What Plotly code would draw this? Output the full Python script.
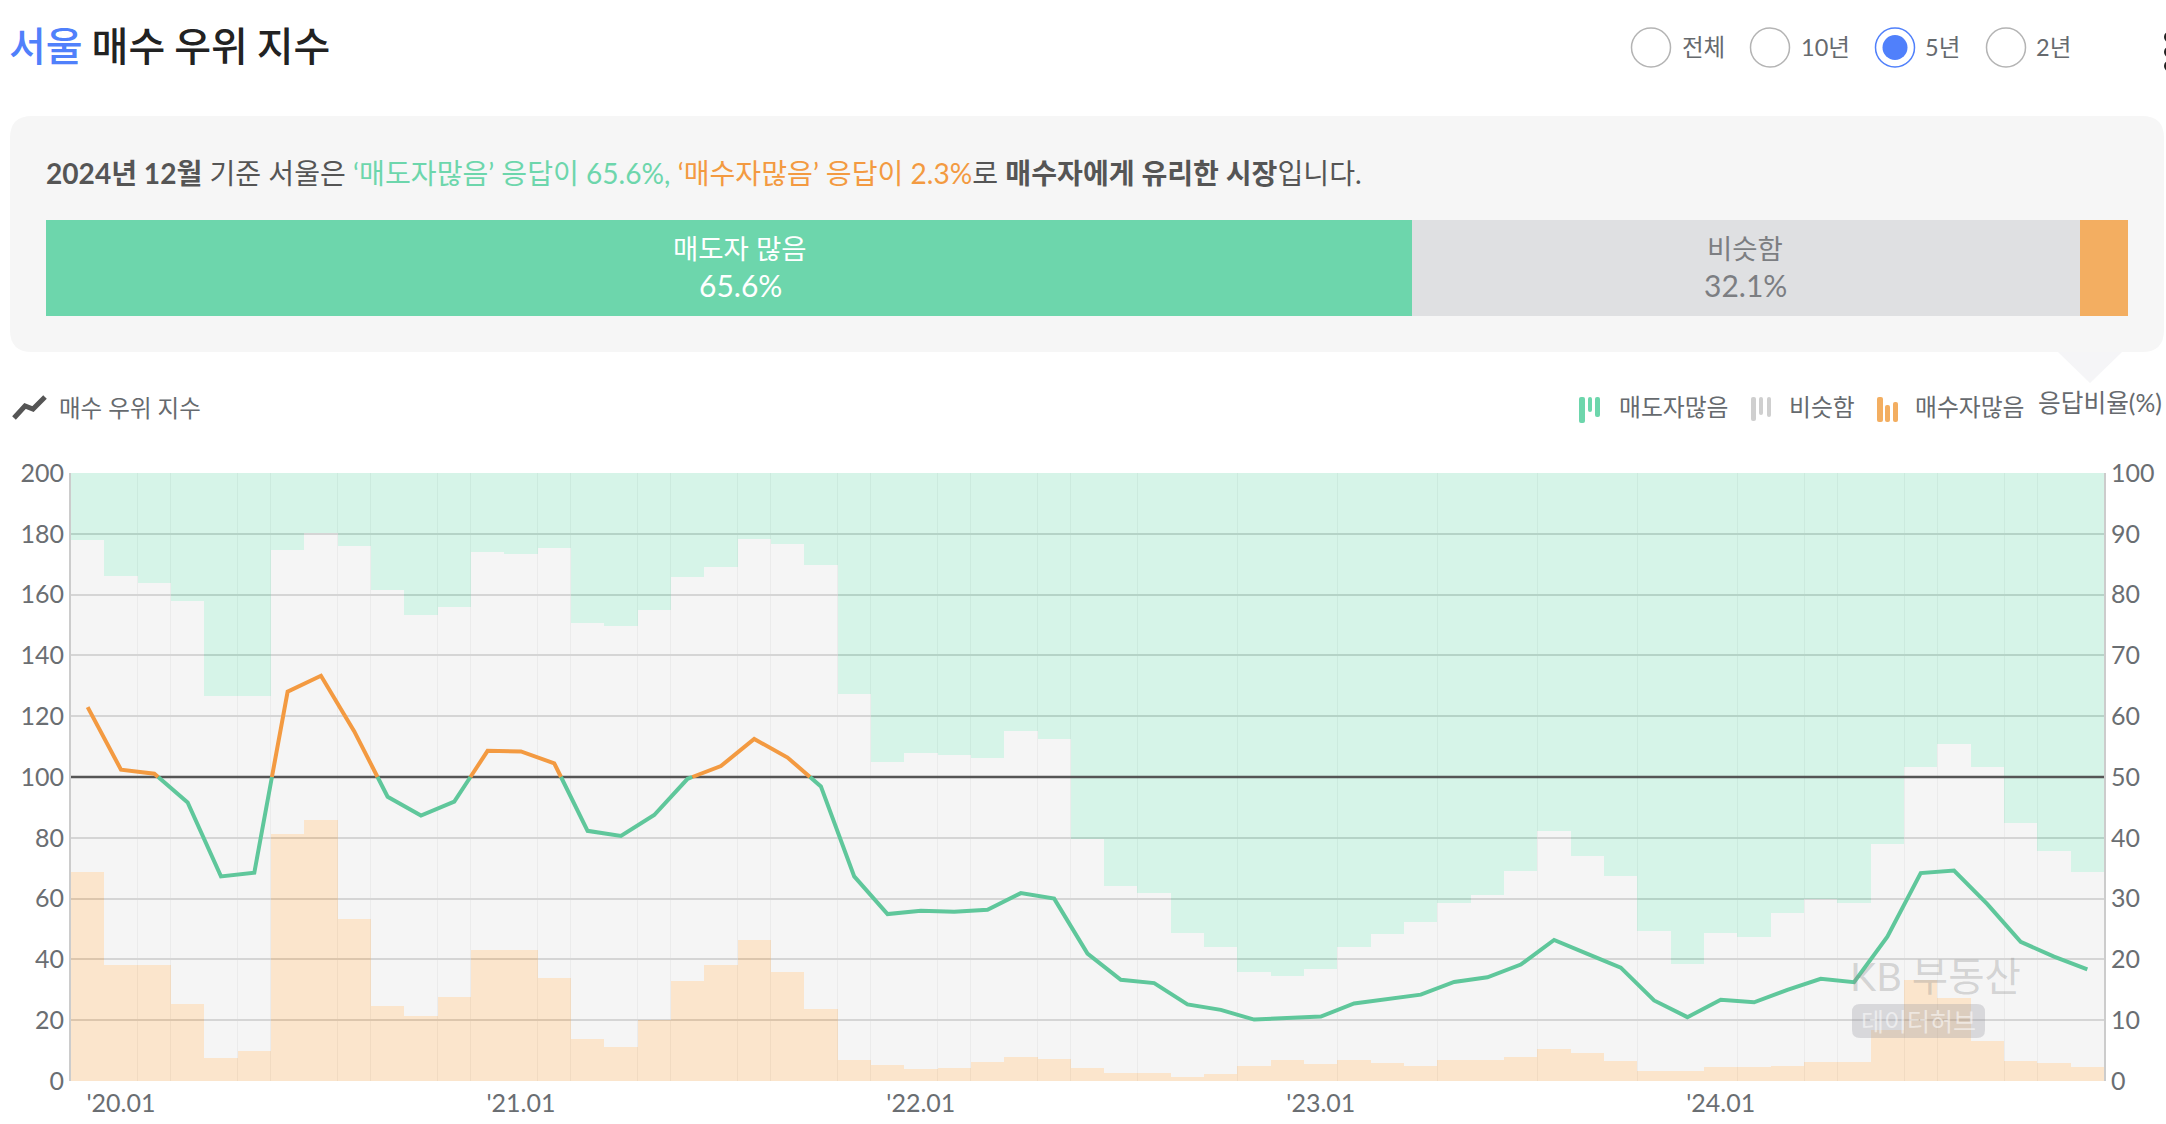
import plotly.graph_objects as go

W, H = 2166, 1124
FONT = "Lato, 'Noto Sans CJK KR', sans-serif"
KR = "'Noto Sans CJK KR', sans-serif"
TEXT_GREY = "#666a6e"
GREEN, GREY, ORANGE = "#6dd6ac", "#dfe0e2", "#f3ae61"
BLUE = "#5080fb"

months = [f"'{y}.{m:02d}" for y in (19,) for m in (12,)] + [
    f"'{y}.{m:02d}" for y in range(20, 25) for m in range(1, 13)
]

# Buyer-advantage index, left axis
buyer_index = [
    123.0, 102.4, 101.1, 91.6, 67.3, 68.5, 128.1, 133.3, 115.0, 93.5, 87.3, 91.9,
    108.6, 108.4, 104.5, 82.3, 80.6, 87.5, 99.4, 103.6, 112.5, 106.4, 96.9, 67.3,
    54.9, 56.0, 55.7, 56.3, 61.8, 60.0, 41.9, 33.3, 32.2, 25.2, 23.4, 20.2,
    20.8, 21.2, 25.5, 27.0, 28.4, 32.6, 34.1, 38.3, 46.4, 41.8, 37.3, 26.5,
    21.0, 26.7, 25.9, 30.0, 33.6, 32.5, 47.5, 68.4, 69.2, 58.2, 45.8, 40.9, 36.7,
]

# Share of responses in percent, right axis
many_sellers = [
    11.1, 16.9, 18.1, 21.0, 36.6, 36.6, 12.7, 9.9, 12.0, 19.2, 23.4, 22.1,
    13.0, 13.4, 12.4, 24.7, 25.1, 22.5, 17.1, 15.5, 10.9, 11.6, 15.2, 36.4,
    47.6, 46.0, 46.4, 46.9, 42.5, 43.8, 60.2, 68.0, 69.1, 75.6, 77.9, 82.1,
    82.8, 81.6, 78.0, 75.9, 73.9, 70.8, 69.4, 65.5, 58.9, 63.0, 66.2, 75.3,
    80.8, 75.7, 76.3, 72.4, 70.1, 70.8, 61.1, 48.4, 44.6, 48.4, 57.5, 62.2, 65.6,
]
many_buyers = [
    34.3, 19.0, 19.0, 12.6, 3.8, 4.9, 40.7, 42.9, 26.7, 12.4, 10.7, 13.8,
    21.5, 21.6, 16.9, 6.9, 5.6, 10.0, 16.4, 19.0, 23.2, 18.0, 11.9, 3.5,
    2.6, 1.9, 2.2, 3.1, 3.9, 3.6, 2.2, 1.3, 1.3, 0.7, 1.1, 2.4,
    3.4, 2.8, 3.4, 2.9, 2.4, 3.4, 3.4, 3.9, 5.2, 4.6, 3.3, 1.7,
    1.7, 2.3, 2.3, 2.4, 3.2, 3.2, 8.4, 16.6, 13.6, 6.5, 3.3, 2.9, 2.3,
]
similar = [round(100 - s - b, 1) for s, b in zip(many_sellers, many_buyers)]

y_ticks_left = list(range(0, 201, 20))
y_ticks_right = list(range(0, 101, 10))
x_tick_labels = ["'20.01", "'21.01", "'22.01", "'23.01", "'24.01"]

# Bar edges that carry a faint divider
divider_edges = [
    2, 3, 5, 6, 8, 9, 11, 12, 14, 15, 17, 18, 20, 21, 23, 24, 26, 27, 29, 30,
    32, 35, 38, 41, 44, 47, 50, 52, 53, 55, 56, 58, 59,
]

latest_labels = ["매도자 많음", "비슷함"]
periods = ["전체", "10년", "5년", "2년"]


def fx(px):
    return px / W


def fy(px):
    return 1 - px / H


def split_at_baseline(values, base=100):
    """Break a series into runs above and below the baseline."""
    runs = []
    xs, ys = [0], [values[0]]
    above = values[0] >= base
    for i in range(1, len(values)):
        now = values[i] >= base
        if now != above:
            t = (base - values[i - 1]) / (values[i] - values[i - 1])
            cx = i - 1 + t
            xs.append(cx)
            ys.append(base)
            runs.append((above, xs, ys))
            xs, ys = [cx], [base]
            above = now
        xs.append(i)
        ys.append(values[i])
    runs.append((above, xs, ys))
    return runs


fig = go.Figure()
idx = list(range(len(months)))

# Stacked monthly response shares
for vals, color, alpha in (
    (many_buyers, "244,173,95", 0.32),
    (similar, "222,222,222", 0.30),
    (many_sellers, "109,214,172", 0.28),
):
    fig.add_bar(
        x=idx, y=vals, yaxis="y", xaxis="x", width=1,
        marker=dict(color=f"rgba({color},{alpha})", line_width=0),
        showlegend=False, hoverinfo="skip",
    )

# Baseline at 100, above the bars
fig.add_scatter(
    x=[-0.5, len(months) - 0.5], y=[100, 100], xaxis="x", yaxis="y2", mode="lines",
    line=dict(color="#555555", width=2.6), showlegend=False, hoverinfo="skip",
)

# Index line: orange above the baseline, green below
for above, xs, ys in split_at_baseline(buyer_index):
    fig.add_scatter(
        x=xs, y=ys, xaxis="x", yaxis="y2", mode="lines",
        line=dict(color="#f39a41" if above else "#5fc79b", width=4),
        showlegend=False, hoverinfo="skip",
    )

# Latest month as a single 100% bar
latest = (many_sellers[-1], similar[-1], many_buyers[-1])
for val, color in zip(latest, (GREEN, GREY, ORANGE)):
    fig.add_bar(
        x=[val], y=[0], orientation="h", xaxis="x3", yaxis="y3", width=1,
        marker=dict(color=color, line_width=0),
        showlegend=False, hoverinfo="skip",
    )

shapes = []


def rect_path(x0, y0, x1, y1, r):
    a, b, c, d = fx(x0), fy(y0), fx(x1), fy(y1)
    rx, ry = r / W, r / H
    return (
        f"M{a + rx},{b} L{c - rx},{b} Q{c},{b} {c},{b - ry} L{c},{d + ry} Q{c},{d} {c - rx},{d} "
        f"L{a + rx},{d} Q{a},{d} {a},{d + ry} L{a},{b - ry} Q{a},{b} {a + rx},{b} Z"
    )


def add_path(d, fill="rgba(0,0,0,0)", line=None, width=0, layer="below"):
    shapes.append(dict(
        type="path", xref="paper", yref="paper", path=d, fillcolor=fill, layer=layer,
        line=dict(color=line or "rgba(0,0,0,0)", width=width),
    ))


def add_circle(cx, cy, r, fill="rgba(0,0,0,0)", line=None, width=0):
    shapes.append(dict(
        type="circle", xref="paper", yref="paper",
        x0=fx(cx - r), x1=fx(cx + r), y0=fy(cy + r), y1=fy(cy - r),
        fillcolor=fill, line=dict(color=line or "rgba(0,0,0,0)", width=width),
    ))


# Summary panel and its pointer
add_path(rect_path(10, 116, 2164, 352, 22), fill="#f6f6f6")
add_path(
    f"M{fx(2058)},{fy(352)} L{fx(2122)},{fy(352)} L{fx(2090)},{fy(383)} Z",
    fill="#f5f5f7",
)

# Period selector
radio_x = [1651, 1770, 1895, 2006]
label_x = [1679.5, 1798.5, 1922.5, 2033.5]
for i, (cx, name) in enumerate(zip(radio_x, periods)):
    selected = name == "5년"
    add_circle(cx, 47.5, 19.5, fill="#ffffff", line=BLUE if selected else "#b4b4b4", width=1.5)
    if selected:
        add_circle(cx, 47.5, 12.5, fill=BLUE)

# Overflow menu dots at the page edge
for cy in (37, 52, 66):
    add_circle(2169.5, cy, 5.5, fill="#222222")

# Legend icons: three rounded bars each
legend_bars = (
    (GREEN, ((1579, 397, 1585, 423), (1588, 397, 1592, 412), (1595, 397, 1600, 417))),
    ("#cfcfcf", ((1751, 397, 1756, 421), (1759, 397, 1763, 415), (1767, 397, 1771, 417))),
    (ORANGE, ((1877, 397, 1883, 422), (1885, 405, 1890, 422), (1893, 402, 1898, 422))),
)
for color, bars in legend_bars:
    for x0, y0, x1, y1 in bars:
        add_path(rect_path(x0, y0, x1, y1, 2), fill=color)

add_path(
    f"M{fx(14)},{fy(418)} L{fx(25)},{fy(406)} L{fx(33)},{fy(409)} L{fx(45)},{fy(397)}",
    line="#555555", width=5,
)

# Watermark plate
add_path(rect_path(1852, 1004, 1985, 1038, 8), fill="rgba(150,150,160,0.30)", layer="above")


def note(x, y, text, size=22, color=TEXT_GREY, anchor="left", family=FONT, weight=None):
    font = dict(family=family, size=size, color=color)
    if weight:
        font["weight"] = weight
    return dict(
        xref="paper", yref="paper", x=fx(x), y=fy(y), text=text, showarrow=False,
        xanchor=anchor, yanchor="middle", align=anchor, font=font,
    )


sentence = (
    f"<b>2024년 12월</b> 기준 서울은 "
    f"<span style='color:#6dd6ac'>‘매도자많음’ 응답이 {many_sellers[-1]}%,</span> "
    f"<span style='color:#f39a41'>‘매수자많음’ 응답이 {many_buyers[-1]}%</span>로 "
    f"<b>매수자에게 유리한 시장</b>입니다."
)

annotations = [
    note(7, 44, f"<span style='color:{BLUE}'>서울</span> 매수 우위 지수", size=40, color="#222222", family=KR, weight=500),
    note(43.5, 173, sentence, size=28.1, color="#555555"),
    note(740, 249, latest_labels[0], size=27.5, color="#ffffff", anchor="center"),
    note(740, 285, f"{latest[0]}%", size=30, color="#ffffff", anchor="center"),
    note(1745, 249, latest_labels[1], size=27.5, color="#7c7e82", anchor="center"),
    note(1745, 285, f"{latest[1]}%", size=30, color="#7c7e82", anchor="center"),
    note(56.5, 408, "매수 우위 지수", size=23.5),
    note(1616.5, 407, "매도자많음", size=23.8),
    note(1786.5, 407, "비슷함", size=23.8),
    note(1912.5, 407, "매수자많음", size=23.8),
    note(2035.5, 403, "응답비율(%)", size=24.7),
    note(1848, 975, "KB 부동산", size=39.5, color="rgba(140,140,140,0.32)"),
    note(1918, 1021, "데이터허브", size=25, color="rgba(255,255,255,0.55)", anchor="center"),
]
for x, name in zip(label_x, periods):
    annotations.append(note(x, 47, name, size=23.5))

tick_font = dict(family=FONT, size=25, color="#6a6e72")

fig.update_layout(
    width=W, height=H, autosize=False,
    margin=dict(l=0, r=0, t=0, b=0, autoexpand=False),
    paper_bgcolor="#ffffff", plot_bgcolor="rgba(0,0,0,0)",
    barmode="stack", bargap=0, showlegend=False,
    shapes=shapes, annotations=annotations,
    xaxis=dict(
        domain=[fx(71), fx(2104)], range=[-0.5, len(months) - 0.5],
        tickmode="array", tickvals=[months.index(t) for t in x_tick_labels],
        ticktext=x_tick_labels, tickfont=tick_font, ticks="", showgrid=False,
        zeroline=False, showline=False, anchor="y", ticklabelstandoff=5,
        minor=dict(
            tickmode="array", tickvals=[e - 0.5 for e in divider_edges],
            showgrid=True, gridcolor="#f1f1f1", gridwidth=1, ticks="",
        ),
    ),
    # Response share on the right, with the shared grid drawn from the index axis
    yaxis=dict(
        domain=[fy(1081), fy(473)], range=[0, 100], side="right", anchor="x",
        tickmode="array", tickvals=y_ticks_right, tickfont=tick_font, ticks="",
        showgrid=False, zeroline=False, showline=True, linecolor="#cccccc",
        linewidth=2, mirror=False,
    ),
    yaxis2=dict(
        range=[0, 200], overlaying="y", side="left", anchor="x",
        tickmode="array", tickvals=y_ticks_left, tickfont=tick_font, ticks="",
        showgrid=True, gridcolor="#d2d2d2", gridwidth=2.4, zeroline=False,
        showline=True, linecolor="#cccccc", linewidth=2,
    ),
    xaxis3=dict(domain=[fx(46), fx(2128)], range=[0, 100], visible=False, anchor="y3"),
    yaxis3=dict(domain=[fy(316), fy(220)], range=[-0.5, 0.5], visible=False, anchor="x3"),
)

fig.write_html("out.html")
